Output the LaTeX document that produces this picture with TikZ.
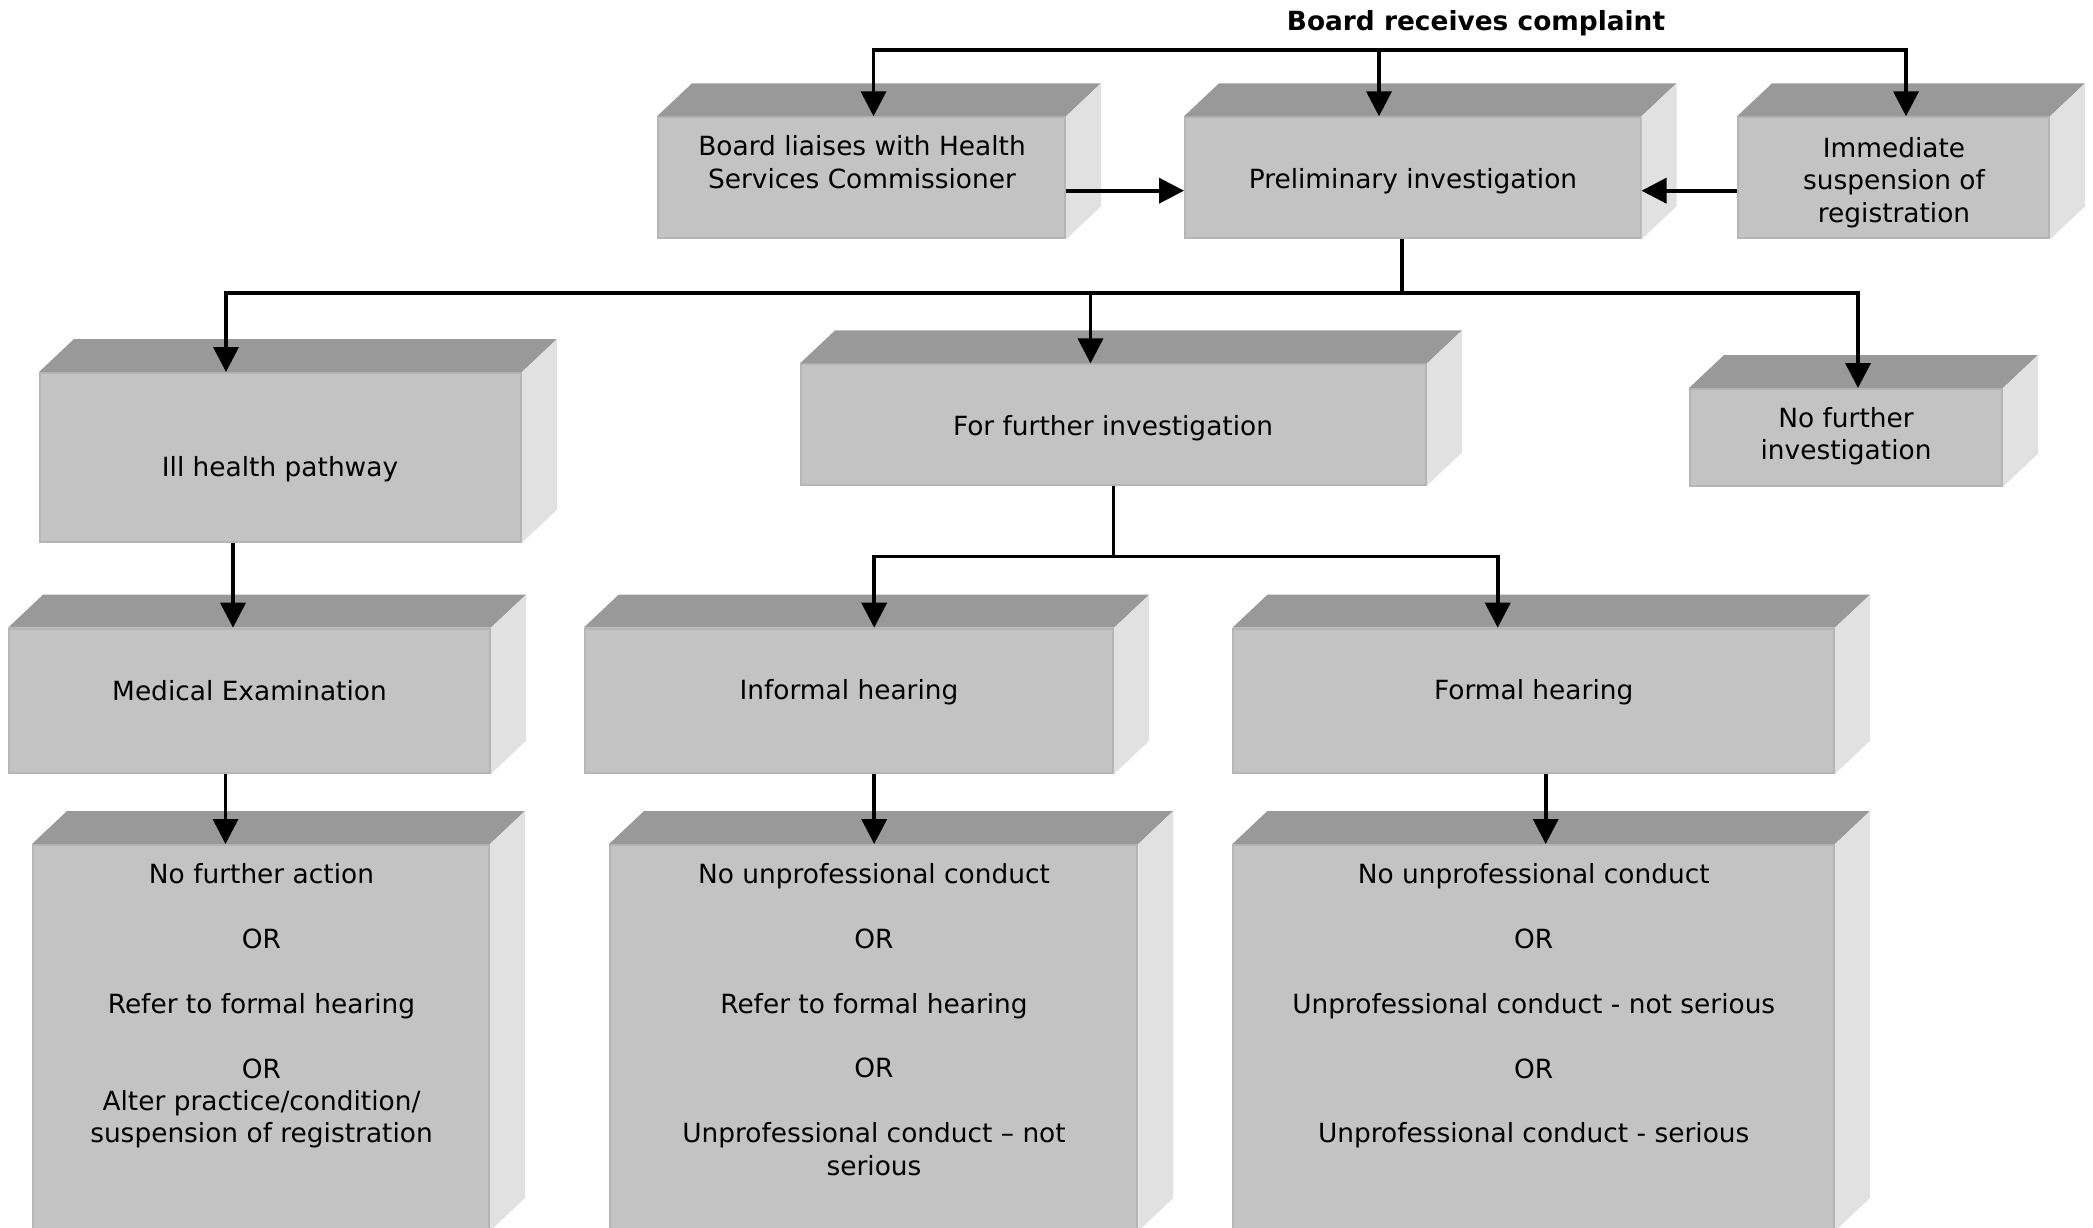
\documentclass[tikz,border=0pt]{standalone}
\usepackage{fontspec}
\setmainfont{DejaVu Sans}
\usetikzlibrary{arrows.meta}

\definecolor{topgray}{HTML}{999999}
\definecolor{frontgray}{HTML}{C3C3C3}
\definecolor{sidegray}{HTML}{E1E1E1}
\definecolor{edgegray}{HTML}{B5B5B5}

\begin{document}
\begin{tikzpicture}[x=1pt, y=-1pt, >={Triangle[length=25pt, width=25pt]},
	face/.style 2 args={fill=frontgray, draw=edgegray, line width=2pt, inner sep=0pt, minimum width=#1pt, minimum height=#2pt},
	txt/.style={align=center, font=\fontsize{26.4pt}{32.4pt}\selectfont},
	link/.style={line width=3.7pt}]
	\clip (0, 0) rectangle (2093, 1228);

	% front faces
	\node[face={407}{121}] (liaise) at (861.5, 177.8) {};
	\node[face={455.5}{121}] (prelim) at (1412.75, 177.8) {};
	\node[face={311}{121}] (immed) at (1893.5, 177.8) {};
	\node[face={481}{168.7}] (ill) at (280.5, 457.35) {};
	\node[face={625}{120.1}] (further) at (1113.5, 424.45) {};
	\node[face={312}{96.7}] (nofurther) at (1846, 437.35) {};
	\node[face={481}{144.1}] (medical) at (249.5, 700.75) {};
	\node[face={528.6}{144.1}] (informal) at (848.9, 700.75) {};
	\node[face={600.6}{144.1}] (formal) at (1533.7, 700.75) {};
	\node[face={456}{385}] (outA) at (261, 1037.5) {};
	\node[face={527.3}{385}] (outB) at (873.65, 1037.5) {};
	\node[face={600.6}{385}] (outC) at (1533.7, 1037.5) {};

	% top and side of each block
	\foreach \n in {liaise,prelim,immed,ill,further,nofurther,medical,informal,formal,outA,outB,outC} {
		\fill[topgray] (\n.north west) -- ++(35, -33) -- ([shift={(35, -33)}]\n.north east) -- (\n.north east) -- cycle;
		\fill[sidegray] (\n.north east) -- ++(35, -33) -- ([shift={(35, -33)}]\n.south east) -- (\n.south east) -- cycle;
	}

	% texts
	\node[txt, font=\fontsize{26.4pt}{32.4pt}\selectfont\bfseries] (title) at (1476, 23) {Board receives complaint};
	\node[txt] (liaise-t) at (862, 162) {Board liaises with Health\\Services Commissioner};
	\node[txt] (prelim-t) at (1413, 181) {Preliminary investigation};
	\node[txt] (immed-t) at (1894, 182.5) {Immediate\\suspension of\\registration};
	\node[txt] (ill-t) at (280, 469) {Ill health pathway};
	\node[txt] (further-t) at (1113, 428) {For further investigation};
	\node[txt] (nofurther-t) at (1846, 436.5) {No further\\investigation};
	\node[txt] (medical-t) at (249.5, 691) {Medical Examination};
	\node[txt] (informal-t) at (849, 692) {Informal hearing};
	\node[txt] (formal-t) at (1533.7, 692) {Formal hearing};
	\node[txt] (outA-t) at (261.5, 1006) {No further action\\[32.4pt]OR\\[32.4pt]Refer to formal hearing\\[32.4pt]OR\\Alter practice/condition/\\suspension of registration};
	\node[txt] (outB-t) at (874, 1019.5) {No unprofessional conduct\\[32.4pt]OR\\[32.4pt]Refer to formal hearing\\[32.4pt]OR\\[32.4pt]Unprofessional conduct -- not\\serious};
	\node[txt] (outC-t) at (1533.7, 1006) {No unprofessional conduct\\[32.4pt]OR\\[32.4pt]Unprofessional conduct - not serious\\[32.4pt]OR\\[32.4pt]Unprofessional conduct - serious};

	% connectors
	\coordinate (bus1) at (1379, 50);
	\coordinate (bus2) at (1402, 292.7);
	\coordinate (bus3) at (1113.5, 556.6);
	\draw[link, ->] (bus1) -- (prelim.north -| bus1);
	\draw[link, ->] (bus1) -| ([xshift=12pt]liaise.north);
	\draw[link, ->] (bus1) -| ([xshift=12.5pt]immed.north);
	\draw[link, ->] ([yshift=-12.9pt]liaise.east) -- ([yshift=-12.9pt]prelim.west);
	\draw[link, ->] ([yshift=-12.9pt]immed.west) -- ([yshift=-12.9pt]prelim.east);
	\draw[link, ->] (prelim.south -| bus2) -- (bus2) -| ([xshift=-54.5pt]ill.north);
	\draw[link, ->] (bus2) -| ([xshift=-23pt]further.north);
	\draw[link, ->] (bus2) -| ([xshift=12pt]nofurther.north);
	\draw[link, ->] ([xshift=-47.5pt]ill.south) -- ([xshift=-47.5pt]ill.south |- medical.north);
	\draw[link, ->] (further.south) -- (bus3) -| ([xshift=25.3pt]informal.north);
	\draw[link, ->] (bus3) -| ([xshift=-36pt]formal.north);
	\draw[link, ->] ([xshift=-24pt]medical.south) -- ([xshift=-24pt]medical.south |- outA.north);
	\draw[link, ->] ([xshift=25.3pt]informal.south) -- ([xshift=25.3pt]informal.south |- outB.north);
	\draw[link, ->] ([xshift=12pt]formal.south) -- ([xshift=12pt]formal.south |- outC.north);
\end{tikzpicture}
\end{document}
